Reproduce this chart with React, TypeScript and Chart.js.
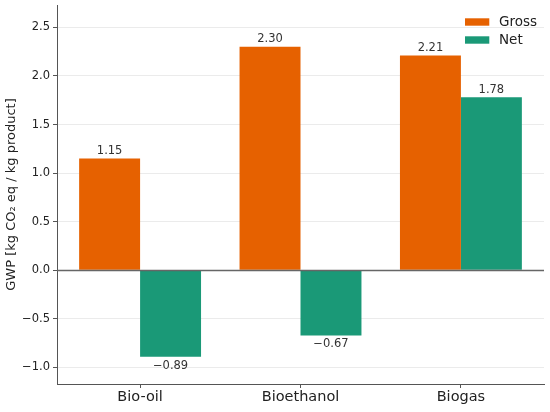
import React, { useEffect, useRef } from "react";
import { Chart, registerables } from "chart.js";

Chart.register(...registerables);

const categories = ["Bio-oil", "Bioethanol", "Biogas"];
const grossValues = [1.15, 2.3, 2.21];
const netValues = [-0.89, -0.67, 1.78];
const yTicks = [-1.0, -0.5, 0.0, 0.5, 1.0, 1.5, 2.0, 2.5];
const seriesNames = ["Gross", "Net"];
const seriesColors = ["#E66100", "#1A9977"];

const FONT = "'DejaVu Sans', sans-serif";
const fmt = (v: number, d: number) => v.toFixed(d).replace("-", "\u2212");

const labelPlugin = {
  id: "valueLabels",
  afterDatasetsDraw(chart: any) {
    const { ctx } = chart;
    const yScale = chart.scales.y;
    const area = chart.chartArea;
    // zero line over bars
    const y0 = Math.round(yScale.getPixelForValue(0)) + 0.5;
    ctx.save();
    ctx.strokeStyle = "#666666";
    ctx.lineWidth = 1.3;
    ctx.beginPath();
    ctx.moveTo(area.left, y0);
    ctx.lineTo(area.right, y0);
    ctx.stroke();

    ctx.font = `11.5px ${FONT}`;
    ctx.fillStyle = "#333333";
    ctx.textAlign = "center";
    ctx.textBaseline = "alphabetic";
    chart.data.datasets.forEach((ds: any, di: number) => {
      const meta = chart.getDatasetMeta(di);
      meta.data.forEach((el: any, i: number) => {
        const v = ds.data[i].y;
        const txt = fmt(v, 2);
        if (v >= 0) ctx.fillText(txt, el.x, el.y - 4.5);
        else ctx.fillText(txt, el.x, el.y + 12);
      });
    });

    // legend
    const right = area.right;
    chart.data.datasets.forEach((ds: any, di: number) => {
      const cy = 22 + di * 18;
      ctx.fillStyle = ds.backgroundColor;
      ctx.fillRect(right - 79, cy - 3.7, 24.3, 7.4);
      ctx.fillStyle = "#222222";
      ctx.font = `13.5px ${FONT}`;
      ctx.textAlign = "left";
      ctx.textBaseline = "middle";
      ctx.fillText(ds.label, right - 45, cy);
    });
    ctx.restore();
  },
};

export default function App() {
  const ref = useRef<HTMLCanvasElement | null>(null);
  useEffect(() => {
    if (!ref.current) return;
    const chart = new Chart(ref.current, {
      type: "bar",
      data: {
        datasets: [grossValues, netValues].map((vals, si) => ({
          label: seriesNames[si],
          data: vals.map((v, i) => ({ x: i, y: v })),
          backgroundColor: seriesColors[si],
          borderWidth: 0,
          categoryPercentage: 0.76,
          barPercentage: 1.0,
        })),
      },
      options: {
        responsive: false,
        animation: false,
        devicePixelRatio: 1,
        layout: { padding: { top: 5, right: 6, left: 0, bottom: 0 } },
        plugins: { legend: { display: false }, tooltip: { enabled: false } },
        scales: {
          x: {
            type: "linear",
            min: -0.518,
            max: 2.518,
            offset: false,
            afterBuildTicks: (scale: any) => {
              scale.ticks = categories.map((_, i) => ({ value: i }));
            },
            afterFit: (scale: any) => {
              scale.height = 28;
              scale.paddingLeft = 0;
              scale.paddingRight = 0;
            },
            ticks: {
              callback: (v: any) => categories[Math.round(Number(v))],
              font: { family: FONT, size: 14.5 },
              color: "#222222",
              padding: 1,
              maxRotation: 0,
              autoSkip: false,
            },
            grid: {
              drawOnChartArea: false,
              drawTicks: true,
              tickLength: 4,
              tickColor: "#555555",
              offset: false,
            },
            border: { display: true, color: "#555555", width: 1 },
          },
          y: {
            type: "linear",
            min: -1.17,
            max: 2.73,
            afterBuildTicks: (scale: any) => {
              scale.ticks = yTicks.map((v) => ({ value: v }));
            },
            afterFit: (scale: any) => {
              scale.width = 57;
              scale.paddingTop = 0;
              scale.paddingBottom = 0;
            },
            ticks: {
              callback: (v: any) => fmt(Number(v), 1),
              font: { family: FONT, size: 11.5 },
              color: "#222222",
              padding: 3,
            },
            grid: {
              color: "#ebebeb",
              lineWidth: 1,
              drawTicks: true,
              tickLength: 4,
              tickColor: "#555555",
            },
            border: { display: true, color: "#555555", width: 1 },
            title: {
              display: true,
              text: "GWP [kg CO\u2082 eq / kg product]",
              font: { family: FONT, size: 13 },
              color: "#222222",
              padding: { top: 4, bottom: 4 },
            },
          },
        },
      },
      plugins: [labelPlugin],
    } as any);
    return () => chart.destroy();
  }, []);
  return (
    <div style={{ position: "fixed", left: 0, top: 0, width: 550, height: 412, background: "#fff" }}>
      <canvas ref={ref} width={550} height={412} style={{ width: 550, height: 412, display: "block" }} />
    </div>
  );
}
